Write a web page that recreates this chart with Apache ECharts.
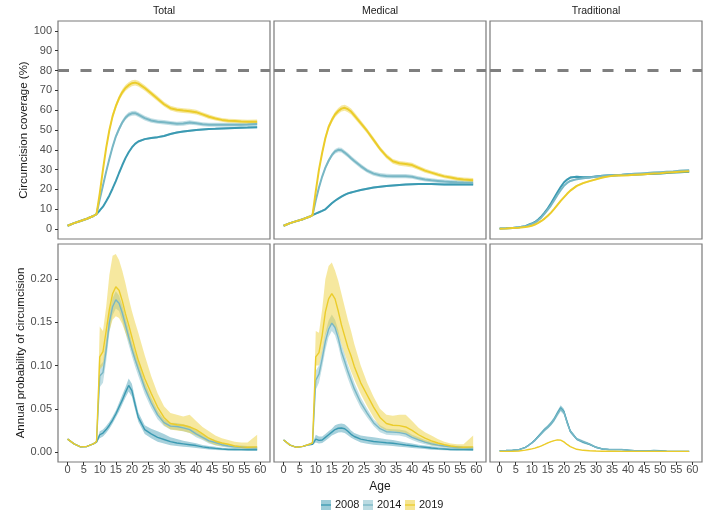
<!DOCTYPE html>
<html><head><meta charset="utf-8">
<script src="https://cdn.jsdelivr.net/npm/echarts@6/dist/echarts.min.js"></script>
<style>html,body{margin:0;padding:0;background:#fff}#c{width:706px;height:518px}</style>
</head><body><div id="c"></div>
<script>
// ---------- DATA ----------
const ages = [0,2,4,6,8,9,10,11,12,13,14,15,16,17,18,19,20,21,22,24,26,28,30,32,34,36,38,40,42,44,46,48,50,52,54,56,59];
const years = ['2008','2014','2019'];
const panelNames = ['Total','Medical','Traditional'];
const xTicks = [0,5,10,15,20,25,30,35,40,45,50,55,60];
const yTicksCov = [0,10,20,30,40,50,60,70,80,90,100];
const yTicksProb = [0,0.05,0.1,0.15,0.2];
const targetCoverage = 80;

// Circumcision coverage (%)
const covTotal2019 = [1.7,3.0,4.1,5.2,6.6,7.6,18,30,41,50,57,62,66,69,71.2,72.6,73.6,73.9,73.4,71.2,68.5,65.8,63,61,60.2,59.8,59.5,59,57.9,56.7,55.8,55.1,54.7,54.5,54.3,54.2,54.2];
const covTotal2014 = [1.7,3.0,4.1,5.2,6.6,7.6,15,22,29,35.5,41.5,46.7,50.5,53.8,56.2,57.7,58.4,58.5,57.8,56,54.8,54.2,53.9,53.5,53.1,53.3,53.8,53.4,52.9,52.7,52.6,52.6,52.6,52.6,52.7,52.8,53];
const covTotal2008 = [1.7,3.0,4.1,5.2,6.6,7.6,9.4,11.3,14,17,20.5,24.2,28.3,32.2,35.8,38.8,41.2,43,44.2,45.4,46,46.4,47,48,48.7,49.2,49.6,50,50.3,50.5,50.6,50.8,50.9,51,51.1,51.2,51.4];
const covMed2019 = [1.7,3.0,4.0,5.0,6.2,7.0,19,30,38.5,46,51.5,55,57.8,59.6,60.8,61.2,60.5,59.3,57.4,53.5,49.5,45,40.5,36.8,34.2,33.2,32.8,32.3,30.9,29.5,28.5,27.5,26.6,26,25.4,25,24.7];
const covMed2014 = [1.7,3.0,4.0,5.0,6.2,7.0,14.5,21,26.5,31,34.5,37.3,39.2,40,39.8,38.6,37.3,35.8,34.4,31.8,29.5,28,27.2,26.8,26.7,26.7,26.7,26.4,25.6,25,24.6,24.3,24,23.8,23.6,23.5,23.4];
const covMed2008 = [1.7,3.0,4.0,5.0,6.2,7.0,7.8,8.5,9.2,10,11.5,13,14.3,15.4,16.4,17.3,18,18.5,18.9,19.7,20.4,21,21.4,21.7,22,22.3,22.5,22.6,22.7,22.7,22.7,22.6,22.5,22.5,22.5,22.5,22.5];
const covTrad2019 = [0.2,0.3,0.5,0.7,1.0,1.3,1.7,2.3,3.1,4.1,5.3,6.7,8.3,10.2,12.2,14.2,16,17.8,19.4,21.8,23.2,24.2,25.1,26,26.6,27,27.1,27.2,27.4,27.6,27.8,28,28.2,28.5,28.7,28.9,29.2];
const covTrad2014 = [0.3,0.4,0.6,0.9,1.4,2,2.6,3.3,4.4,5.9,7.8,9.8,12,14.6,17.2,19.6,21.8,23.3,24.3,25.2,25.6,26,26.4,26.8,27,27.2,27.4,27.7,27.9,28.1,28.3,28.5,28.7,28.9,29.1,29.4,29.7];
const covTrad2008 = [0.3,0.4,0.6,0.9,1.5,2.2,2.8,3.6,4.8,6.4,8.3,10.5,13,15.8,18.6,21.2,23.5,25,26,26.4,26.1,26.2,26.6,26.9,27.1,27.2,27.3,27.5,27.6,27.7,27.8,27.9,28.1,28.3,28.5,28.7,28.9];
// half-widths of the coverage uncertainty ribbons
const covHw2019 = [0.3,0.3,0.3,0.3,0.3,0.3,0.8,1,1.2,1.3,1.4,1.4,1.4,1.5,1.5,1.5,1.5,1.5,1.5,1.4,1.3,1.3,1.2,1.2,1.2,1.2,1.2,1.2,1.1,1.1,1,1,1,1,1,1,1.1];
const covHw2014 = [0.3,0.3,0.3,0.3,0.3,0.3,0.6,0.8,0.9,1,1.1,1.1,1.2,1.2,1.2,1.2,1.2,1.2,1.2,1.2,1.1,1.1,1.1,1.1,1.1,1.1,1.1,1,1,1,1,1,1,1,1,1,1];
const covHw2008 = [0.3,0.3,0.3,0.3,0.3,0.3,0.4,0.4,0.5,0.5,0.5,0.5,0.5,0.5,0.5,0.5,0.5,0.5,0.5,0.5,0.5,0.5,0.5,0.5,0.5,0.5,0.5,0.5,0.5,0.5,0.5,0.5,0.5,0.5,0.5,0.5,0.5];
const covHwTrad = [0.2,0.2,0.2,0.2,0.2,0.3,0.3,0.3,0.4,0.4,0.4,0.5,0.5,0.5,0.5,0.5,0.5,0.5,0.5,0.5,0.5,0.5,0.5,0.5,0.5,0.5,0.5,0.5,0.5,0.5,0.5,0.5,0.5,0.5,0.5,0.5,0.5];

// Annual probability of circumcision
const probTotal2019 = [0.015,0.0095,0.006,0.0065,0.0095,0.012,0.11,0.116,0.14,0.165,0.183,0.191,0.187,0.175,0.16,0.147,0.133,0.119,0.106,0.085,0.068,0.052,0.04,0.033,0.0315,0.031,0.029,0.026,0.021,0.016,0.0125,0.0105,0.009,0.007,0.006,0.0055,0.006];
const probTotal2019Lo = [0.014,0.0088,0.0055,0.006,0.009,0.011,0.095,0.1,0.12,0.14,0.153,0.157,0.155,0.148,0.138,0.128,0.117,0.105,0.094,0.074,0.058,0.043,0.031,0.026,0.025,0.024,0.022,0.019,0.015,0.011,0.008,0.007,0.006,0.005,0.004,0.0035,0.003];
const probTotal2019Hi = [0.016,0.0102,0.0065,0.007,0.01,0.013,0.145,0.14,0.168,0.205,0.227,0.229,0.222,0.21,0.195,0.178,0.163,0.15,0.138,0.112,0.088,0.068,0.053,0.045,0.043,0.041,0.043,0.036,0.029,0.024,0.019,0.016,0.014,0.012,0.011,0.011,0.02];
const probTotal2014 = [0.015,0.0095,0.006,0.0065,0.0095,0.012,0.088,0.092,0.118,0.15,0.168,0.176,0.172,0.161,0.147,0.133,0.119,0.107,0.096,0.074,0.057,0.043,0.034,0.03,0.0295,0.028,0.026,0.021,0.017,0.013,0.011,0.0085,0.007,0.006,0.0055,0.005,0.0045];
const probTotal2014Lo = [0.0145,0.009,0.0057,0.0062,0.009,0.0115,0.075,0.08,0.105,0.138,0.158,0.166,0.163,0.152,0.138,0.124,0.111,0.099,0.088,0.067,0.051,0.038,0.03,0.026,0.0255,0.024,0.022,0.017,0.014,0.01,0.008,0.006,0.005,0.004,0.0035,0.003,0.0025];
const probTotal2014Hi = [0.0155,0.01,0.0063,0.0068,0.01,0.0125,0.1,0.104,0.13,0.162,0.178,0.186,0.181,0.17,0.156,0.142,0.127,0.115,0.104,0.081,0.063,0.048,0.038,0.034,0.0335,0.032,0.03,0.025,0.02,0.016,0.014,0.011,0.009,0.008,0.0075,0.007,0.0065];
const probTotal2008 = [0.015,0.0095,0.006,0.0065,0.0095,0.0115,0.02,0.022,0.026,0.031,0.037,0.044,0.052,0.06,0.069,0.077,0.071,0.055,0.04,0.026,0.021,0.017,0.0145,0.012,0.0105,0.0095,0.0085,0.0075,0.006,0.005,0.0042,0.0035,0.003,0.003,0.0028,0.0027,0.0027];
const probTotal2008Lo = [0.0145,0.009,0.0057,0.0062,0.009,0.011,0.016,0.018,0.022,0.027,0.033,0.04,0.047,0.055,0.063,0.07,0.064,0.049,0.035,0.021,0.016,0.012,0.01,0.008,0.007,0.006,0.0055,0.0048,0.0038,0.003,0.0025,0.002,0.0017,0.0016,0.0015,0.0014,0.0014];
const probTotal2008Hi = [0.0155,0.01,0.0063,0.0068,0.01,0.012,0.024,0.026,0.03,0.035,0.041,0.048,0.057,0.066,0.075,0.085,0.079,0.062,0.046,0.031,0.027,0.024,0.021,0.017,0.015,0.013,0.0115,0.0102,0.0082,0.007,0.006,0.005,0.0043,0.0043,0.004,0.004,0.004];
const probMed2019 = [0.014,0.008,0.0055,0.0065,0.009,0.0105,0.11,0.115,0.135,0.162,0.177,0.183,0.177,0.163,0.147,0.134,0.121,0.111,0.099,0.08,0.066,0.052,0.04,0.033,0.031,0.0305,0.029,0.025,0.02,0.016,0.013,0.0105,0.0085,0.007,0.006,0.0055,0.006];
const probMed2019Lo = [0.0135,0.0075,0.0052,0.006,0.0085,0.01,0.1,0.1,0.115,0.135,0.145,0.148,0.145,0.136,0.125,0.114,0.103,0.093,0.084,0.067,0.053,0.04,0.029,0.025,0.024,0.023,0.022,0.018,0.014,0.011,0.008,0.007,0.006,0.005,0.004,0.0035,0.003];
const probMed2019Hi = [0.0145,0.0085,0.006,0.007,0.0095,0.011,0.14,0.138,0.165,0.2,0.215,0.219,0.21,0.198,0.183,0.168,0.153,0.14,0.125,0.1,0.08,0.064,0.05,0.043,0.042,0.043,0.043,0.036,0.028,0.023,0.019,0.015,0.012,0.01,0.009,0.009,0.019];
const probMed2014 = [0.014,0.008,0.0055,0.0065,0.009,0.0105,0.083,0.09,0.108,0.128,0.142,0.149,0.144,0.132,0.116,0.105,0.093,0.083,0.073,0.057,0.045,0.034,0.027,0.0235,0.023,0.0225,0.021,0.017,0.014,0.0115,0.0095,0.008,0.007,0.006,0.0055,0.005,0.0045];
const probMed2014Lo = [0.0135,0.0075,0.0052,0.006,0.0085,0.01,0.072,0.08,0.098,0.118,0.133,0.14,0.135,0.123,0.107,0.096,0.085,0.075,0.066,0.051,0.04,0.03,0.023,0.02,0.0195,0.019,0.0175,0.014,0.011,0.009,0.0072,0.006,0.005,0.0043,0.0038,0.0033,0.0028];
const probMed2014Hi = [0.0145,0.0085,0.006,0.007,0.0095,0.011,0.094,0.1,0.118,0.138,0.152,0.159,0.153,0.141,0.125,0.114,0.101,0.091,0.08,0.063,0.05,0.038,0.031,0.027,0.0265,0.026,0.0245,0.02,0.017,0.014,0.012,0.01,0.009,0.0077,0.0072,0.0067,0.0062];
const probMed2008 = [0.014,0.008,0.0055,0.0065,0.0085,0.009,0.015,0.0135,0.014,0.017,0.02,0.023,0.026,0.0275,0.0278,0.027,0.024,0.0205,0.018,0.015,0.0135,0.0122,0.0115,0.0108,0.0102,0.0092,0.0082,0.0073,0.0063,0.0055,0.0047,0.004,0.0035,0.003,0.003,0.0028,0.0027];
const probMed2008Lo = [0.0135,0.0075,0.0052,0.006,0.008,0.0085,0.011,0.01,0.0105,0.013,0.016,0.019,0.021,0.0225,0.023,0.022,0.0195,0.0165,0.0145,0.011,0.0095,0.0085,0.008,0.0075,0.007,0.0062,0.0055,0.0048,0.004,0.0034,0.0028,0.0023,0.002,0.0017,0.0016,0.0015,0.0014];
const probMed2008Hi = [0.0145,0.0085,0.006,0.007,0.009,0.0095,0.02,0.018,0.018,0.021,0.024,0.027,0.031,0.0325,0.033,0.032,0.029,0.025,0.022,0.019,0.018,0.017,0.016,0.0148,0.0138,0.0125,0.011,0.0098,0.0085,0.0075,0.0066,0.0057,0.005,0.0045,0.0043,0.0041,0.004];
const probTrad2019 = [0.0008,0.0008,0.0009,0.0012,0.0022,0.003,0.0037,0.0046,0.0058,0.0072,0.0088,0.0105,0.012,0.0132,0.0141,0.0138,0.0118,0.0088,0.0063,0.0032,0.002,0.0015,0.0012,0.001,0.0009,0.0009,0.0008,0.0008,0.0008,0.0008,0.0008,0.0008,0.0008,0.0008,0.0008,0.0008,0.0008];
const probTrad2014 = [0.0015,0.0018,0.0022,0.0028,0.0052,0.0078,0.0105,0.0135,0.0175,0.0215,0.0255,0.029,0.033,0.038,0.044,0.05,0.046,0.034,0.024,0.015,0.012,0.0092,0.0055,0.0036,0.003,0.0029,0.0029,0.0022,0.0016,0.0013,0.0012,0.0017,0.0014,0.001,0.0008,0.0008,0.0008];
const probTrad2008 = [0.0015,0.0018,0.0022,0.0027,0.0055,0.0078,0.0105,0.014,0.018,0.022,0.026,0.029,0.033,0.038,0.045,0.051,0.047,0.035,0.024,0.015,0.0115,0.009,0.0055,0.0035,0.003,0.0028,0.0028,0.0022,0.0015,0.0012,0.0012,0.0018,0.0015,0.001,0.0008,0.0008,0.0008];
const probHwTrad = [0.0003,0.0003,0.0003,0.0003,0.0005,0.0008,0.001,0.0012,0.0015,0.0018,0.002,0.0022,0.0024,0.0026,0.0028,0.003,0.003,0.0026,0.002,0.0015,0.0015,0.0012,0.0008,0.0006,0.0005,0.0005,0.0005,0.0004,0.0004,0.0003,0.0003,0.0003,0.0003,0.0003,0.0003,0.0003,0.0003];
const probHwTrad2019 = [0.0002,0.0002,0.0002,0.0002,0.0002,0.0003,0.0003,0.0003,0.0004,0.0004,0.0004,0.0005,0.0005,0.0005,0.0005,0.0005,0.0005,0.0005,0.0004,0.0003,0.0003,0.0002,0.0002,0.0002,0.0002,0.0002,0.0002,0.0002,0.0002,0.0002,0.0002,0.0002,0.0002,0.0002,0.0002,0.0002,0.0002];

// ---------- STYLE / LAYOUT ----------
const colors = {'2008':[59,154,178],'2014':[120,183,197],'2019':[235,204,42]};
const rgb = (c,a) => a===undefined ? `rgb(${c.join(',')})` : `rgba(${c.join(',')},${a})`;
const FONT = '"Liberation Sans", Arial, Helvetica, sans-serif';
const colLeft = [58, 274, 490], colW = 212;
const rowTop = [21, 244], rowH = 218;

const band = (mid, hw) => ({lo: mid.map((v,i)=>v-hw[i]), hi: mid.map((v,i)=>v+hw[i])});
const panels = [
  {row:0,col:0,s:{'2008':{mid:covTotal2008,...band(covTotal2008,covHw2008)},'2014':{mid:covTotal2014,...band(covTotal2014,covHw2014)},'2019':{mid:covTotal2019,...band(covTotal2019,covHw2019)}}},
  {row:0,col:1,s:{'2008':{mid:covMed2008,...band(covMed2008,covHw2008)},'2014':{mid:covMed2014,...band(covMed2014,covHw2014)},'2019':{mid:covMed2019,...band(covMed2019,covHw2019)}}},
  {row:0,col:2,s:{'2008':{mid:covTrad2008,...band(covTrad2008,covHwTrad)},'2014':{mid:covTrad2014,...band(covTrad2014,covHwTrad)},'2019':{mid:covTrad2019,...band(covTrad2019,covHwTrad)}}},
  {row:1,col:0,s:{'2008':{mid:probTotal2008,lo:probTotal2008Lo,hi:probTotal2008Hi},'2014':{mid:probTotal2014,lo:probTotal2014Lo,hi:probTotal2014Hi},'2019':{mid:probTotal2019,lo:probTotal2019Lo,hi:probTotal2019Hi}}},
  {row:1,col:1,s:{'2008':{mid:probMed2008,lo:probMed2008Lo,hi:probMed2008Hi},'2014':{mid:probMed2014,lo:probMed2014Lo,hi:probMed2014Hi},'2019':{mid:probMed2019,lo:probMed2019Lo,hi:probMed2019Hi}}},
  {row:1,col:2,s:{'2008':{mid:probTrad2008,...band(probTrad2008,probHwTrad)},'2014':{mid:probTrad2014,...band(probTrad2014,probHwTrad)},'2019':{mid:probTrad2019,...band(probTrad2019,probHwTrad2019)}}}
];

const grid=[], xAxis=[], yAxis=[], series=[];
panels.forEach((p, gi) => {
  grid.push({left: colLeft[p.col], top: rowTop[p.row], width: colW, height: rowH, show: true,
    borderColor: '#7a7a7a', borderWidth: 1.2, backgroundColor: 'transparent', containLabel: false});
  const bottomRow = p.row === 1, leftCol = p.col === 0;
  xAxis.push({type:'value', gridIndex: gi, min: -3, max: 63, position: 'bottom',
    axisLine:{show:false, onZero:false}, splitLine:{show:false},
    axisTick:{show: bottomRow, length: 3, customValues: xTicks, lineStyle:{color:'#333', width:1}},
    axisLabel:{show: bottomRow, customValues: xTicks, margin: 2, fontSize: 11, color:'#4d4d4d', fontFamily: FONT},
    name: (bottomRow && p.col===1) ? 'Age' : '', nameLocation:'middle', nameGap: 19,
    nameTextStyle:{fontSize: 12, color:'#1a1a1a', fontFamily: FONT}
  });
  const yt = p.row === 0 ? yTicksCov : yTicksProb;
  yAxis.push({type:'value', gridIndex: gi, position: 'left',
    min: p.row===0 ? -5 : -0.0115, max: p.row===0 ? 105 : 0.2405,
    axisLine:{show:false, onZero:false}, splitLine:{show:false},
    axisTick:{show: leftCol, length: 3, customValues: yt, lineStyle:{color:'#333', width:1}},
    axisLabel:{show: leftCol, customValues: yt, margin: 6, fontSize: 11, color:'#4d4d4d', fontFamily: FONT,
      formatter: v => p.row===0 ? String(v) : v.toFixed(2)},
    name: leftCol ? (p.row===0 ? 'Circumcision coverage (%)' : 'Annual probability of circumcision') : '',
    nameLocation:'middle', nameGap: 26, nameRotate: 90,
    nameTextStyle:{fontSize: 11.5, color:'#1a1a1a', fontFamily: FONT}
  });
  years.forEach(y => {
    const d = p.s[y];
    series.push({type:'custom', name: y+' band', xAxisIndex: gi, yAxisIndex: gi, silent: true, z: 1,
      data: [0],
      renderItem: (params, api) => {
        const pts = [];
        for (let i=0;i<ages.length;i++) pts.push(api.coord([ages[i], d.hi[i]]));
        for (let i=ages.length-1;i>=0;i--) pts.push(api.coord([ages[i], d.lo[i]]));
        return {type:'polygon', shape:{points: pts}, style:{fill: rgb(colors[y], 0.45), stroke: null}};
      }
    });
  });
  years.forEach((y, k) => {
    const d = p.s[y];
    const s = {type:'line', name: y, xAxisIndex: gi, yAxisIndex: gi, silent: true, z: 3,
      showSymbol: false, symbol: 'none', smooth: false,
      lineStyle:{color: rgb(colors[y]), width: p.row===0 ? 2 : 1.4},
      data: ages.map((a,i) => [a, d.mid[i]])};
    if (p.row === 0 && k === 0) {
      s.markLine = {silent: true, symbol: 'none', label:{show:false}, animation:false,
        lineStyle:{color:'#7f7f7f', width: 3, type:[11,11.5]},
        data:[{yAxis: targetCoverage}]};
    }
    series.push(s);
  });
});

const graphic = [];
panelNames.forEach((n, c) => graphic.push({type:'text', x: colLeft[c] + colW/2, y: 11,
  style:{text: n, align:'center', verticalAlign:'middle', textAlign:'center', textVerticalAlign:'middle',
    font: `10.5px ${FONT}`, fill:'#1a1a1a'}}));
const legX = [321, 363, 405];
years.forEach((y, k) => {
  graphic.push({type:'rect', shape:{x: legX[k], y: 500, width: 10, height: 10}, style:{fill: rgb(colors[y], 0.5)}});
  graphic.push({type:'line', shape:{x1: legX[k], y1: 505, x2: legX[k]+10, y2: 505}, style:{stroke: rgb(colors[y]), lineWidth: 1.3}});
  graphic.push({type:'text', x: legX[k] + 14, y: 505,
    style:{text: y, align:'left', verticalAlign:'middle', textAlign:'left', textVerticalAlign:'middle',
      font: `11px ${FONT}`, fill:'#1a1a1a'}});
});

const chart = echarts.init(document.getElementById('c'), null, {renderer:'canvas'});
chart.setOption({animation: false, backgroundColor:'#fff', grid, xAxis, yAxis, series, graphic});
</script></body></html>
